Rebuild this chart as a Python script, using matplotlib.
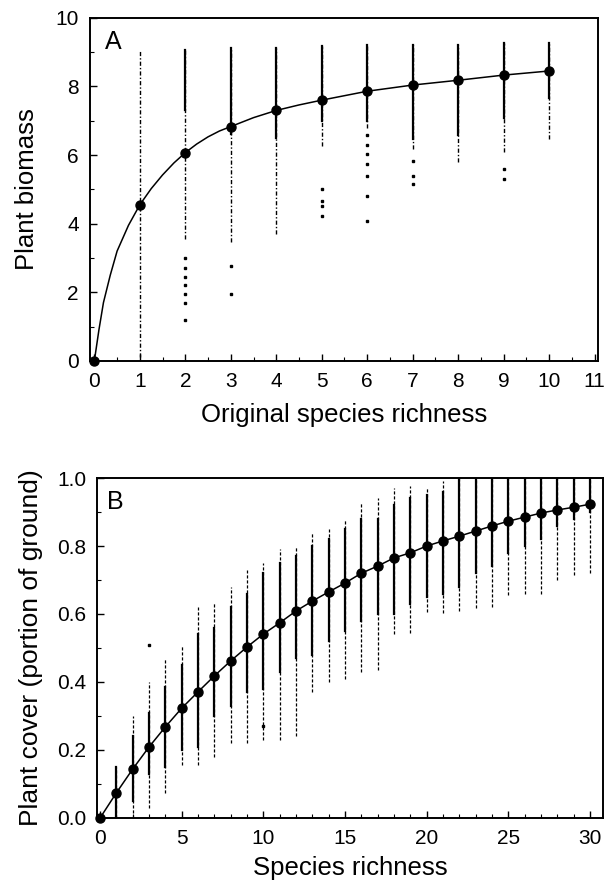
import numpy as np
import matplotlib
matplotlib.use('Agg')
import matplotlib.pyplot as plt
from matplotlib.ticker import MultipleLocator

plt.rcParams['font.family'] = ['Liberation Sans', 'DejaVu Sans']

# ---- Panel A data ----
a_x = [0, 1, 2, 3, 4, 5, 6, 7, 8, 9, 10]
a_mean = [0, 4.55, 6.07, 6.83, 7.3, 7.6, 7.86, 8.04, 8.18, 8.33, 8.45]
# fitted curve, read at a few points
a_curve_x = [0, 0.1, 0.2, 0.35, 0.5, 0.75, 1, 1.25, 1.5, 1.75, 2, 2.25, 2.5, 2.75,
             3, 3.5, 4, 4.5, 5, 6, 7, 8, 9, 10]
a_curve_y = [0, 0.9, 1.7, 2.5, 3.2, 3.95, 4.55, 5.02, 5.42, 5.77, 6.07, 6.32, 6.53, 6.7,
             6.83, 7.09, 7.3, 7.46, 7.6, 7.86, 8.04, 8.18, 8.33, 8.45]
# spread of the plots at each richness (x = 1..10)
a_col_x = [1, 2, 3, 4, 5, 6, 7, 8, 9, 10]
a_top = [9.03, 9.06, 9.12, 9.12, 9.18, 9.2, 9.2, 9.2, 9.27, 9.27]
a_solid_lo = [9.03, 7.3, 6.6, 6.5, 7.0, 7.0, 6.48, 6.57, 7.07, 7.65]
a_dash_lo = [0.1, 3.55, 3.46, 3.7, 6.25, 6.8, 6.19, 5.8, 6.1, 6.48]
a_out_x = [2, 2, 2, 2, 2, 2, 2, 3, 3, 5, 5, 5, 5,
           6, 6, 6, 6, 6, 6, 6, 7, 7, 7, 9, 9]
a_out_y = [3.0, 2.7, 2.45, 2.2, 1.95, 1.7, 1.2, 2.76, 1.94, 5.0, 4.66, 4.5, 4.22,
           6.57, 6.28, 6.04, 5.75, 5.4, 4.8, 4.08, 5.84, 5.4, 5.16, 5.6, 5.3]

# ---- Panel B data ----
b_x = list(range(0, 31))
b_mean = [0, 0.074, 0.144, 0.209, 0.268, 0.323, 0.371, 0.418, 0.462, 0.503, 0.541,
          0.574, 0.609, 0.638, 0.665, 0.691, 0.72, 0.741, 0.765, 0.78, 0.8,
          0.815, 0.829, 0.844, 0.859, 0.873, 0.885, 0.897, 0.906, 0.914, 0.923]
b_col_x = list(range(1, 31))
b_top = [0.15, 0.30, 0.40, 0.47, 0.51, 0.62, 0.635, 0.68, 0.73, 0.75,
         0.79, 0.80, 0.84, 0.85, 0.88, 0.93, 0.94, 0.97, 0.976, 0.975,
         0.99, 1.0, 1.0, 1.0, 1.0, 1.0, 1.0, 1.0, 1.0, 1.0]
b_bot = [0.0, 0.0, 0.03, 0.074, 0.156, 0.156, 0.18, 0.22, 0.22, 0.23,
         0.23, 0.24, 0.37, 0.40, 0.41, 0.43, 0.435, 0.54, 0.545, 0.605,
         0.603, 0.61, 0.617, 0.62, 0.656, 0.658, 0.66, 0.70, 0.715, 0.72]
b_core_hi = [0.15, 0.24, 0.31, 0.385, 0.45, 0.54, 0.56, 0.62, 0.66, 0.72,
             0.75, 0.77, 0.80, 0.82, 0.85, 0.88, 0.88, 0.92, 0.94, 0.95,
             0.96, 1.0, 1.0, 1.0, 1.0, 1.0, 1.0, 1.0, 1.0, 1.0]
b_core_lo = [0.0, 0.05, 0.13, 0.15, 0.2, 0.21, 0.3, 0.33, 0.37, 0.38,
             0.43, 0.47, 0.48, 0.52, 0.55, 0.58, 0.6, 0.6, 0.63, 0.65,
             0.66, 0.68, 0.72, 0.74, 0.78, 0.8, 0.82, 0.86, 0.88, 0.9]
b_out_x = [3, 10]
b_out_y = [0.51, 0.27]

fig = plt.figure(figsize=(6.11, 8.91), dpi=100)
axA = fig.add_axes([0.147, 0.595, 0.832, 0.385])
axB = fig.add_axes([0.159, 0.082, 0.828, 0.3815])

# panel A
for x, hi, slo, dlo in zip(a_col_x, a_top, a_solid_lo, a_dash_lo):
    axA.plot([x, x], [dlo, hi], color='black', lw=1.0, ls=(0, (3, 1.5, 1, 1.5)))
    axA.plot([x, x], [slo, hi], color='black', lw=1.6)
axA.plot(a_out_x, a_out_y, ls='none', marker='s', ms=1.5, color='black')
axA.plot(a_curve_x, a_curve_y, color='black', lw=1.1)
axA.plot(a_x, a_mean, ls='none', marker='o', ms=6.5, color='black', clip_on=False, zorder=5)
axA.set_xlim(-0.1, 11.08)
axA.set_ylim(0, 10)
axA.xaxis.set_major_locator(MultipleLocator(1))
axA.xaxis.set_minor_locator(MultipleLocator(0.5))
axA.yaxis.set_major_locator(MultipleLocator(2))
axA.yaxis.set_minor_locator(MultipleLocator(1))
axA.set_xlabel('Original species richness', fontsize=18.5, labelpad=9)
axA.set_ylabel('Plant biomass', fontsize=18.5, labelpad=12)
axA.text(0.03, 0.965, 'A', transform=axA.transAxes, fontsize=18, va='top', ha='left')

# panel B
for x, lo, hi, clo, chi in zip(b_col_x, b_bot, b_top, b_core_lo, b_core_hi):
    axB.plot([x, x], [lo, hi], color='black', lw=0.9, ls=(0, (2.5, 1.5)))
    axB.plot([x, x], [clo, chi], color='black', lw=1.6)
axB.plot(b_out_x, b_out_y, ls='none', marker='s', ms=1.5, color='black')
axB.plot(b_x, b_mean, color='black', lw=1.1, marker='o', ms=6.5, clip_on=False, zorder=5)
axB.set_xlim(-0.18, 30.8)
axB.set_ylim(0, 1.0)
axB.xaxis.set_major_locator(MultipleLocator(5))
axB.xaxis.set_minor_locator(MultipleLocator(1))
axB.yaxis.set_major_locator(MultipleLocator(0.2))
axB.yaxis.set_minor_locator(MultipleLocator(0.1))
axB.yaxis.set_major_formatter(plt.FormatStrFormatter('%.1f'))
axB.set_xlabel('Species richness', fontsize=18.5, labelpad=6)
axB.set_ylabel('Plant cover (portion of ground)', fontsize=19, labelpad=10)
axB.text(0.02, 0.965, 'B', transform=axB.transAxes, fontsize=18, va='top', ha='left')

for ax in (axA, axB):
    for s in ax.spines.values():
        s.set_linewidth(1.4)
    ax.tick_params(which='major', direction='in', length=5, width=1.0, labelsize=15, pad=8)
    ax.tick_params(which='minor', direction='in', length=3, width=0.8)

fig.savefig('out.png', dpi=100)
